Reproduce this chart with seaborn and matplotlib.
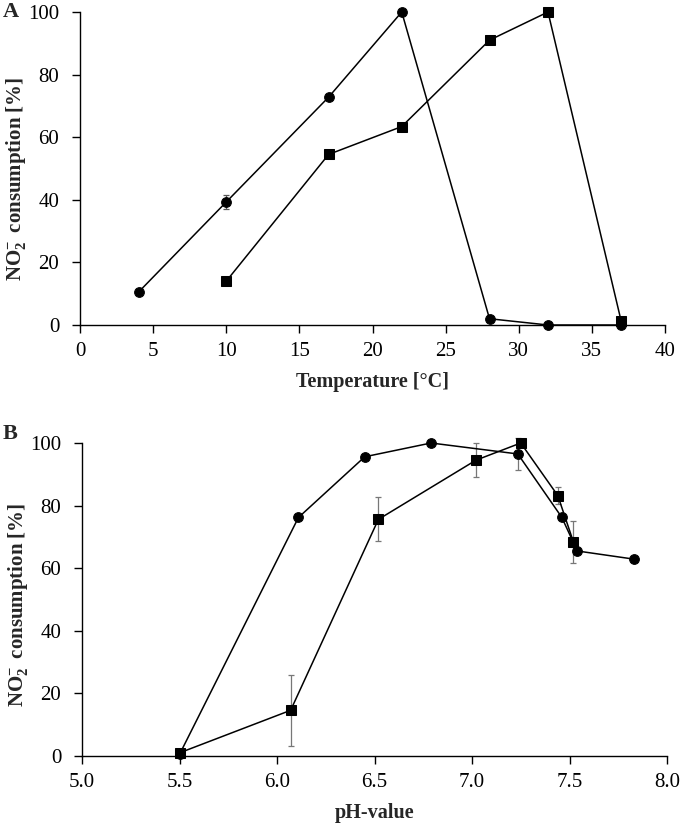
import matplotlib
matplotlib.use("Agg")
import matplotlib.pyplot as plt
import seaborn as sns
import pandas as pd
import numpy as np

# Panel A data (temperature)
temp_circle_x = [4, 10, 17, 22, 28, 32, 37]
temp_circle_y = [10.5, 39.3, 72.8, 100, 2.0, 0.0, 0.0]
temp_circle_err = [0, 2.2, 0, 0, 0, 0, 0]
temp_square_x = [10, 17, 22, 28, 32, 37]
temp_square_y = [14.0, 54.5, 63.4, 91.0, 100, 1.3]

# Panel B data (pH)
ph_circle_x = [5.50, 6.11, 6.45, 6.79, 7.235, 7.46, 7.54, 7.83]
ph_circle_y = [0.5, 76.2, 95.6, 100, 96.5, 76.3, 65.5, 62.9]
ph_circle_err = [0, 0, 0, 0, 5.0, 0, 0, 0]
ph_square_x = [5.50, 6.07, 6.52, 7.02, 7.25, 7.44, 7.52]
ph_square_y = [1.0, 14.6, 75.6, 94.5, 100, 83.2, 68.4]
ph_square_err = [0, 11.4, 7.0, 5.5, 0, 2.6, 6.7]

temp_ticks = [0, 5, 10, 15, 20, 25, 30, 35, 40]
ph_ticks = [5.0, 5.5, 6.0, 6.5, 7.0, 7.5, 8.0]
y_ticks = [0, 20, 40, 60, 80, 100]

sns.set_theme(style="ticks")
plt.rcParams['font.family'] = ['Liberation Serif', 'DejaVu Serif']
plt.rcParams['mathtext.fontset'] = 'custom'
plt.rcParams['mathtext.rm'] = 'Liberation Serif'
plt.rcParams['mathtext.bf'] = 'Liberation Serif:bold'
plt.rcParams['mathtext.default'] = 'bf'

fig = plt.figure(figsize=(6.8, 8.23), dpi=100)
axA = fig.add_axes([80/680, 1-325/823, 585/680, 313/823])
axB = fig.add_axes([82/680, 1-756/823, 585/680, 313/823])

ylabel = r"NO$_2^{\!-}$ consumption [%]"

def draw(ax, cx, cy, cerr, sx, sy, serr, ecolor):
    dfc = pd.DataFrame({"x": cx, "y": cy})
    dfs = pd.DataFrame({"x": sx, "y": sy})
    if serr is not None:
        ax.errorbar(sx, sy, yerr=serr, fmt='none', ecolor=ecolor, elinewidth=0.9,
                    capsize=2.5, capthick=0.9, zorder=2, clip_on=False)
    if cerr is not None:
        ax.errorbar(cx, cy, yerr=cerr, fmt='none', ecolor=ecolor, elinewidth=0.9,
                    capsize=2.5, capthick=0.9, zorder=2, clip_on=False)
    sns.lineplot(data=dfc, x="x", y="y", ax=ax, color="black", marker="o",
                 markersize=7, linewidth=1.1, sort=False, markeredgecolor="black",
                 clip_on=False, zorder=3)
    sns.lineplot(data=dfs, x="x", y="y", ax=ax, color="black", marker="s",
                 markersize=7, linewidth=1.1, sort=False, markeredgecolor="black",
                 clip_on=False, zorder=3)

draw(axA, temp_circle_x, temp_circle_y, temp_circle_err,
     temp_square_x, temp_square_y, None, "#555555")
draw(axB, ph_circle_x, ph_circle_y, ph_circle_err,
     ph_square_x, ph_square_y, ph_square_err, "#777777")

for ax, xt, xl, xlab, ly in [(axA, temp_ticks, (0, 40), "Temperature [°C]", 0.468),
                             (axB, ph_ticks, (5.0, 8.0), "pH-value", 0.483)]:
    ax.set_xlim(*xl)
    ax.set_ylim(0, 100)
    ax.set_xticks(xt)
    if ax is axB:
        ax.set_xticklabels([f"{t:.1f}" for t in xt])
    ax.set_yticks(y_ticks)
    for s in ["top", "right"]:
        ax.spines[s].set_visible(False)
    for s in ["left", "bottom"]:
        ax.spines[s].set_color("black")
        ax.spines[s].set_linewidth(1.0)
    ax.tick_params(axis="both", direction="out", length=6, width=1.0,
                   labelsize=15, colors="black")
    ax.tick_params(axis="y", pad=9)
    ax.tick_params(axis="x", pad=6)
    ax.set_xlabel(xlab, fontsize=14.5, fontweight="bold", labelpad=8)
    ax.set_ylabel(ylabel, fontsize=15, fontweight="bold")
    ax.yaxis.set_label_coords(-52/585, ly)

fig.text(3/680, 1-12/823, "A", fontsize=16, fontweight="bold", va="center", ha="left")
fig.text(3/680, 1-434/823, "B", fontsize=16, fontweight="bold", va="center", ha="left")

fig.savefig("out.png", dpi=100)
